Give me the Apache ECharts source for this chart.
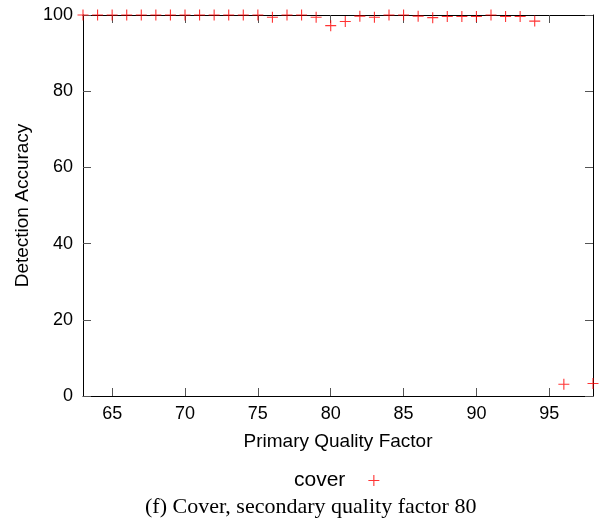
<!DOCTYPE html>
<head>
    <meta charset="utf-8">
    <title>ECharts</title>
    <style>
        html, body { margin: 0; padding: 0; background: #fff; }
        #main { width: 602px; height: 522px; }
    </style>
</head>
<body>
<div id="main"></div>

<script src="https://cdn.jsdelivr.net/npm/echarts@6/dist/echarts.min.js"></script>
<script type="text/javascript">
    // primary quality factor and detection accuracy (cover, secondary QF 80)
    var qualityFactors = [63, 64, 65, 66, 67, 68, 69, 70, 71, 72, 73, 74, 75, 76, 77, 78,
        79, 80, 81, 82, 83, 84, 85, 86, 87, 88, 89, 90, 91, 92, 93, 94, 96, 98];
    var coverAccuracy = [100, 100, 100, 100, 100, 100, 100, 100, 100, 100, 100, 100, 100, 99.4, 100, 100,
        99.4, 97.2, 98.3, 99.7, 99.4, 100, 100, 99.7, 99.3, 99.6, 99.6, 99.6, 100, 99.6, 99.6, 98.4, 3.1, 3.3];
    var xTicks = [65, 70, 75, 80, 85, 90, 95];

    var points = [];
    for (var i = 0; i < qualityFactors.length; i++) {
        points.push([qualityFactors[i], coverAccuracy[i]]);
    }

    var plus = 'path://M0,4.5H10V5.5H0Z M4.5,0H5.5V10H4.5Z';
    var font = 'Liberation Sans';

    var chart = echarts.init(document.getElementById('main'));
    chart.setOption({
        backgroundColor: '#fff',
        animation: false,
        title: {
            text: '(f) Cover, secondary quality factor 80',
            left: 145,
            top: 496,
            padding: 0,
            textStyle: { fontFamily: 'Liberation Serif', fontSize: 22, fontWeight: 'normal', color: '#000' }
        },
        legend: {
            data: [{ name: 'cover', icon: plus }],
            left: 294,
            top: 470,
            padding: 0,
            align: 'right',
            itemWidth: 11,
            itemHeight: 11,
            textStyle: { fontFamily: font, fontSize: 21, color: '#000', padding: [0, 18, 0, 0] }
        },
        grid: { left: 83, right: 9, top: 15, bottom: 126, containLabel: false },
        xAxis: [
            {
                type: 'value', min: 63, max: 98, position: 'bottom',
                name: 'Primary Quality Factor', nameLocation: 'middle', nameGap: 36,
                nameTextStyle: { fontFamily: font, fontSize: 19, color: '#000' },
                axisLine: { show: true, onZero: false, lineStyle: { color: '#000', width: 1 } },
                axisTick: { show: true, inside: true, length: 8, customValues: xTicks, lineStyle: { color: '#555' } },
                axisLabel: { customValues: xTicks, margin: 9, fontFamily: font, fontSize: 18, color: '#000' },
                splitLine: { show: false }
            },
            {
                type: 'value', min: 63, max: 98, position: 'top',
                axisLine: { show: true, onZero: false, lineStyle: { color: '#000', width: 1 } },
                axisTick: { show: true, inside: true, length: 8, customValues: xTicks, lineStyle: { color: '#555' } },
                axisLabel: { show: false },
                splitLine: { show: false }
            }
        ],
        yAxis: [
            {
                type: 'value', min: 0, max: 100, interval: 20, position: 'left',
                name: 'Detection Accuracy', nameLocation: 'middle', nameGap: 47,
                nameTextStyle: { fontFamily: font, fontSize: 19, color: '#000' },
                axisLine: { show: true, onZero: false, lineStyle: { color: '#000', width: 1 } },
                axisTick: { show: true, inside: true, length: 8, lineStyle: { color: '#555' } },
                axisLabel: { margin: 10, fontFamily: font, fontSize: 18, color: '#000' },
                splitLine: { show: false }
            },
            {
                type: 'value', min: 0, max: 100, interval: 20, position: 'right',
                axisLine: { show: true, onZero: false, lineStyle: { color: '#000', width: 1 } },
                axisTick: { show: true, inside: true, length: 8, lineStyle: { color: '#555' } },
                axisLabel: { show: false },
                splitLine: { show: false }
            }
        ],
        series: [
            {
                name: 'cover',
                type: 'scatter',
                xAxisIndex: 0,
                yAxisIndex: 0,
                symbol: plus,
                symbolSize: 11,
                clip: false,
                itemStyle: { color: '#ff0000' },
                data: points
            }
        ]
    });
</script>
</body>
